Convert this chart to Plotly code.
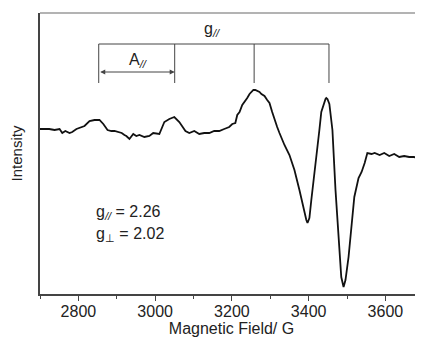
import plotly.graph_objects as go

# Magnetic field (G) and EPR intensity (arbitrary units)
field = [2700, 2724, 2738, 2751, 2758, 2766, 2777, 2784, 2795, 2803, 2816, 2829, 2842, 2855,
         2865, 2876, 2886, 2894, 2902, 2913, 2920, 2925, 2933, 2943, 2951, 2959, 2972, 2985,
         2995, 3011, 3024, 3037, 3050, 3063, 3079, 3089, 3102, 3115, 3128, 3141, 3154, 3167,
         3180, 3193, 3201, 3209, 3214, 3220, 3227, 3235, 3240, 3246, 3251, 3256, 3261, 3266,
         3272, 3277, 3285, 3292, 3298, 3305, 3311, 3318, 3324, 3337, 3350, 3363, 3376, 3384,
         3389, 3394, 3397, 3402, 3407, 3415, 3423, 3428, 3433, 3439, 3444, 3446, 3449, 3454,
         3457, 3462, 3470, 3478, 3485, 3491, 3496, 3504, 3512, 3519, 3530, 3538, 3546, 3553,
         3564, 3572, 3585, 3597, 3610, 3623, 3636, 3649, 3662, 3674, 3688, 3700]
ypix = [129, 129, 130, 129, 133, 131, 133, 132, 129, 128, 126, 121, 120, 120,
        124, 130, 131, 131, 132, 133, 135, 136, 139, 134, 136, 135, 137, 136,
        133, 134, 122, 119, 117, 122, 131, 133, 131, 134, 133, 133, 131, 131,
        129, 127, 124, 123, 115, 112, 105, 101, 98, 94, 92, 90, 90, 91,
        92, 94, 96, 100, 103, 112, 120, 127, 133, 145, 155, 170, 190, 205,
        213, 220, 223, 218, 200, 175, 145, 130, 112, 104, 99, 98, 99, 104,
        112, 130, 190, 240, 277, 287, 280, 257, 223, 197, 178, 172, 163, 153,
        154, 153, 155, 153, 156, 154, 157, 156, 157, 157, 158, 157]
intensity = [294 - v for v in ypix]

# hyperfine bracket positions (G) and levels (intensity units)
bracket_fields = [2853, 3051, 3258, 3453]
bracket_top = 250
bracket_bottom = 211
arrow_level = 222

x_tick_vals = [2800, 3000, 3200, 3400, 3600]
x_tick_text = ["2800", "3000", "3200", "3400", "3600"]

FONT = "Liberation Sans, Arial, sans-serif"
line_col = "#444444"
txt_col = "#222222"

fig = go.Figure()
fig.add_trace(go.Scatter(x=field, y=intensity, mode="lines",
                         line=dict(color="#111111", width=1.8), hoverinfo="skip",
                         showlegend=False))

shapes = []
shapes.append(dict(type="line", xref="x", yref="y", x0=bracket_fields[0], x1=bracket_fields[-1],
                   y0=bracket_top, y1=bracket_top, line=dict(color=line_col, width=1)))
for bf in bracket_fields:
    shapes.append(dict(type="line", xref="x", yref="y", x0=bf, x1=bf,
                       y0=bracket_bottom, y1=bracket_top, line=dict(color=line_col, width=1)))
shapes.append(dict(type="line", xref="paper", yref="paper", x0=0, x1=1, y0=1, y1=1,
                   line=dict(color="#9a9a9a", width=1.5)))

annotations = [
    dict(x=bracket_fields[1], y=arrow_level, ax=bracket_fields[0], ay=arrow_level,
         xref="x", yref="y", axref="x", ayref="y", text="", showarrow=True,
         arrowhead=2, arrowsize=1, arrowwidth=1, arrowcolor=line_col, arrowside="end+start",
         startarrowhead=2, startarrowsize=1),
    dict(x=(bracket_fields[0] + bracket_fields[1]) / 2 + 4, y=234, xref="x", yref="y",
         text="A<sub><i>//</i></sub>", showarrow=False,
         font=dict(family=FONT, size=16, color=txt_col)),
    dict(x=3150, y=265, xref="x", yref="y", text="g<sub><i>//</i></sub>", showarrow=False,
         font=dict(family=FONT, size=16, color=txt_col)),
    dict(x=2842, y=82, xref="x", yref="y", xanchor="left",
         text="g<sub><i>//</i></sub> = 2.26", showarrow=False,
         font=dict(family=FONT, size=16, color=txt_col)),
    dict(x=2842, y=60, xref="x", yref="y", xanchor="left",
         text="g<sub>⊥</sub> = 2.02", showarrow=False,
         font=dict(family=FONT, size=16, color=txt_col)),
]

# page body has an 8px margin, so the figure is sized/offset to compensate
fig.update_layout(
    width=415, height=339,
    margin=dict(l=32, r=0, t=5, b=53, autoexpand=False),
    paper_bgcolor="white", plot_bgcolor="white",
    font=dict(family=FONT, size=15, color=txt_col),
    shapes=shapes, annotations=annotations,
    xaxis=dict(range=[2700, 3698], showgrid=False, zeroline=False, automargin=False,
               showline=True, linecolor=line_col, linewidth=1.5,
               ticks="outside", ticklen=5, tickwidth=1, tickcolor=line_col,
               tickvals=x_tick_vals, ticktext=x_tick_text, ticklabelstandoff=-3,
               tickfont=dict(family=FONT, size=16, color=txt_col),
               minor=dict(ticks="outside", ticklen=3, tickwidth=1, tickcolor=line_col,
                          tickvals=[2700, 2900, 3100, 3300, 3500, 3700]),
               title=dict(text="Magnetic Field/ G", standoff=3,
                          font=dict(family=FONT, size=16, color=txt_col))),
    yaxis=dict(range=[0, 281], showgrid=False, zeroline=False, showticklabels=False,
               automargin=False,
               showline=True, linecolor=line_col, linewidth=1.5, ticks="",
               title=dict(text="Intensity", standoff=16,
                          font=dict(family=FONT, size=15, color=txt_col))),
)

fig.write_html("out.html")
